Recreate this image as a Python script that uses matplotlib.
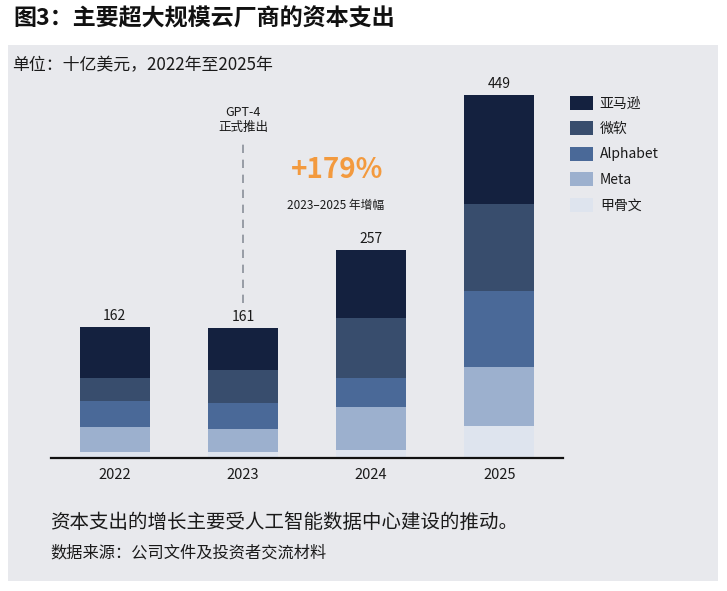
import matplotlib
matplotlib.use("Agg")
import matplotlib.pyplot as plt
from matplotlib.patches import Rectangle, Patch
import numpy as np

plt.rcParams['font.family'] = ['Noto Sans CJK SC', 'DejaVu Sans']

# ---------------- data ----------------
years = ['2022', '2023', '2024', '2025']
series_names = ['亚马逊', '微软', 'Alphabet', 'Meta', '甲骨文']
amazon = [63.6, 52.7, 84.0, 135.0]
microsoft = [28.0, 40.0, 74.0, 108.0]
alphabet = [31.5, 32.3, 35.5, 93.5]
meta = [31.5, 28.5, 53.0, 73.5]
oracle = [7.4, 7.5, 10.5, 39.0]

title = '图3：主要超大规模云厂商的资本支出'
unit_text = '单位：十亿美元，2022年至2025年'
note_text = '资本支出的增长主要受人工智能数据中心建设的推动。'
source_text = '数据来源：公司文件及投资者交流材料'
event_text = 'GPT-4\n正式推出'
growth_text = '+179%'
growth_sub = '2023–2025 年增幅'

colors = ['#14213f', '#384d6d', '#4a6998', '#9cb0ce', '#dee4ee']
panel_color = '#e8e9ed'
orange = '#f39a3e'

W, H = 727, 591
fig = plt.figure(figsize=(W / 100, H / 100), dpi=100)
fig.patch.set_facecolor('white')

def fx(px):
    return px / W

def fy(py):
    return 1 - py / H

# grey panel
fig.patches.append(Rectangle((fx(8), fy(581)), fx(718) - fx(8), fy(45) - fy(581),
                             transform=fig.transFigure, facecolor=panel_color,
                             edgecolor='none', zorder=-5))

# axes
ax_left, ax_right, ax_top, ax_bottom = 50.7, 563.3, 80, 458
ax = fig.add_axes([fx(ax_left), fy(ax_bottom), (ax_right - ax_left) / W, (ax_bottom - ax_top) / H])
ax.set_facecolor('none')
ax.set_zorder(1)
ymax = (ax_bottom - ax_top) / 0.8085
ax.set_xlim(-0.5, 3.5)
ax.set_ylim(0, ymax)

x = np.arange(len(years))
stack = [oracle, meta, alphabet, microsoft, amazon]
stack_colors = colors[::-1]
bottom = np.zeros(len(years))
for vals, c in zip(stack, stack_colors):
    ax.bar(x, vals, width=0.55, bottom=bottom, color=c, edgecolor='none', zorder=2)
    bottom = bottom + np.array(vals)

totals = bottom
for xi, t in zip(x, totals):
    ax.annotate(f'{t:.0f}', (xi, t), xytext=(0, 3), textcoords='offset points',
                ha='center', va='bottom', fontsize=10, color='#1a1a1a')

for s in ['top', 'right', 'left']:
    ax.spines[s].set_visible(False)
ax.spines['bottom'].set_linewidth(1.6)
ax.spines['bottom'].set_color('#111111')
ax.set_yticks([])
ax.set_xticks(x)
ax.set_xticklabels(years, fontsize=10.5, color='#1a1a1a')
ax.tick_params(axis='x', length=0, pad=7.5)

# GPT-4 marker (dashed line above 2023)
ax.plot([1, 1], [(458 - 303) / 0.8085, (458 - 142) / 0.8085], linestyle=(0, (5, 4)),
        color='#8a8f99', linewidth=1.2, zorder=1)
fig.text(fx(243), fy(120), event_text, ha='center', va='center', fontsize=9,
         color='#1a1a1a', linespacing=1.15)

# growth annotation
fig.text(fx(337), fy(170), growth_text, ha='center', va='center', fontsize=20,
         fontweight='bold', color=orange)
fig.text(fx(336), fy(205), growth_sub, ha='center', va='center', fontsize=8.5,
         color='#1a1a1a')

# legend
handles = [Patch(facecolor=c, edgecolor='none') for c in colors]
leg = fig.legend(handles, series_names, loc='upper left',
                 bbox_to_anchor=(fx(570), fy(96)), bbox_transform=fig.transFigure,
                 frameon=False, fontsize=10, borderpad=0, borderaxespad=0,
                 handlelength=1.65, handleheight=1.15, handletextpad=0.5,
                 labelspacing=0.78)
for t in leg.get_texts():
    t.set_color('#1a1a1a')

# titles and notes
fig.text(fx(13), fy(19), title, ha='left', va='center', fontsize=16.6,
         fontweight='bold', color='#111111')
fig.text(fx(12), fy(65), unit_text, ha='left', va='center', fontsize=12.2,
         color='#1a1a1a')
fig.text(fx(50), fy(522), note_text, ha='left', va='center', fontsize=14,
         color='#1a1a1a')
fig.text(fx(50), fy(553), source_text, ha='left', va='center', fontsize=11.7,
         color='#1a1a1a')

fig.savefig('out.png', dpi=100, facecolor='white')
